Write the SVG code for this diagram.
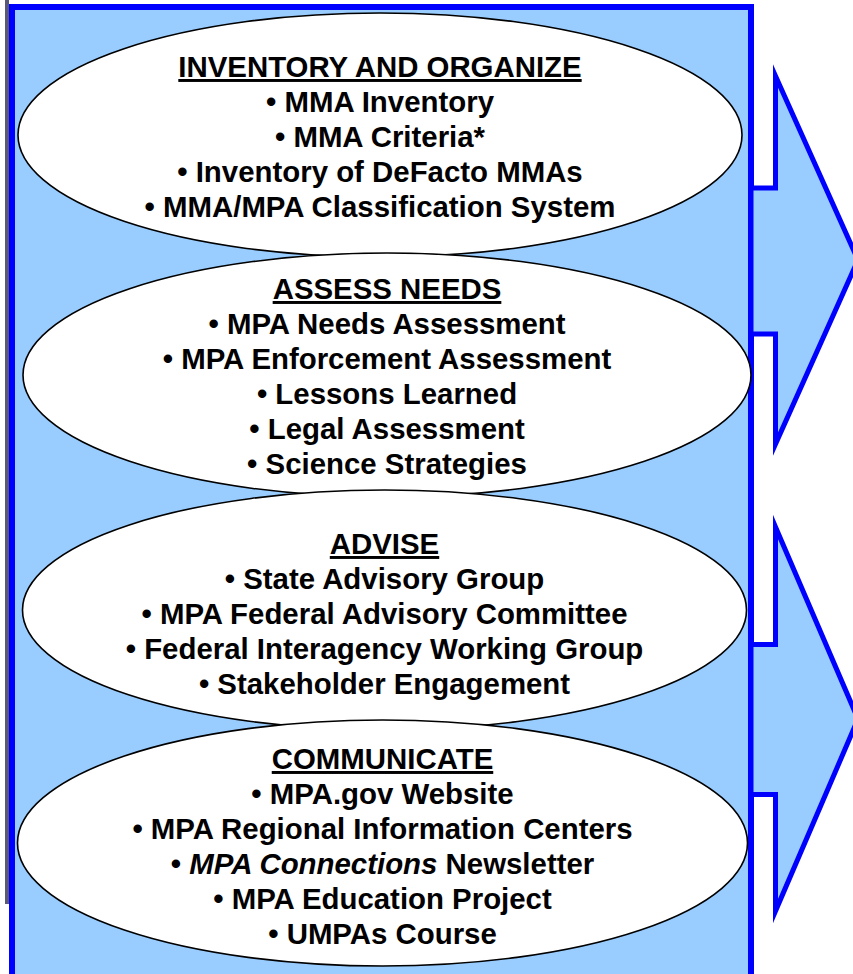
<svg xmlns="http://www.w3.org/2000/svg" width="853" height="974" viewBox="0 0 853 974">
<style>
.bg{fill:#99CCFF;stroke:#0000FF;stroke-width:6}
.arrow{fill:#99CCFF;stroke:#0000FF;stroke-width:5;stroke-miterlimit:12;stroke-linejoin:miter}
.oval{fill:#FFFFFF;stroke:#000000;stroke-width:1.6}
text{font-family:"Liberation Sans",Arial,sans-serif;font-weight:bold;font-size:29.4px;fill:#000000;text-anchor:middle}
.title{text-decoration:underline}
</style>
<rect x="0" y="0" width="853" height="974" fill="#FFFFFF"/>
<rect id="shadow" x="5" y="0" width="4" height="904" fill="#5a5a78"/>
<rect id="panel" class="bg" x="12" y="7" width="739" height="980"/>
<g id="connectors">
<polygon id="arrow1" class="arrow" points="775.5,76 858,260 775.5,444 775.5,334 751,334 751,188 775.5,188"/>
<polygon id="arrow2" class="arrow" points="775.5,527 858,719 775.5,911 775.5,794.5 751,794.5 751,644.5 775.5,644.5"/>
</g>
<g id="node-inventory">
<ellipse class="oval" cx="380" cy="135" rx="362" ry="122"/>
<text x="380" y="77" class="title">INVENTORY AND ORGANIZE</text>
<text x="380" y="112">• MMA Inventory</text>
<text x="380" y="147">• MMA Criteria*</text>
<text x="380" y="182">• Inventory of DeFacto MMAs</text>
<text x="380" y="217">• MMA/MPA Classification System</text>
</g>
<g id="node-assess">
<ellipse class="oval" cx="387" cy="375" rx="364" ry="122"/>
<text x="387" y="299" class="title">ASSESS NEEDS</text>
<text x="387" y="334">• MPA Needs Assessment</text>
<text x="387" y="369">• MPA Enforcement Assessment</text>
<text x="387" y="404">• Lessons Learned</text>
<text x="387" y="439">• Legal Assessment</text>
<text x="387" y="474">• Science Strategies</text>
</g>
<g id="node-advise">
<ellipse class="oval" cx="384.5" cy="610" rx="362" ry="120"/>
<text x="384.5" y="554" class="title">ADVISE</text>
<text x="384.5" y="589">• State Advisory Group</text>
<text x="384.5" y="624">• MPA Federal Advisory Committee</text>
<text x="384.5" y="659">• Federal Interagency Working Group</text>
<text x="384.5" y="694">• Stakeholder Engagement</text>
</g>
<g id="node-communicate">
<ellipse class="oval" cx="382.5" cy="843" rx="365" ry="123"/>
<text x="382.5" y="769" class="title">COMMUNICATE</text>
<text x="382.5" y="804">• MPA.gov Website</text>
<text x="382.5" y="839">• MPA Regional Information Centers</text>
<text x="382.5" y="874">• <tspan font-style="italic">MPA Connections</tspan> Newsletter</text>
<text x="382.5" y="909">• MPA Education Project</text>
<text x="382.5" y="944">• UMPAs Course</text>
</g>
</svg>
